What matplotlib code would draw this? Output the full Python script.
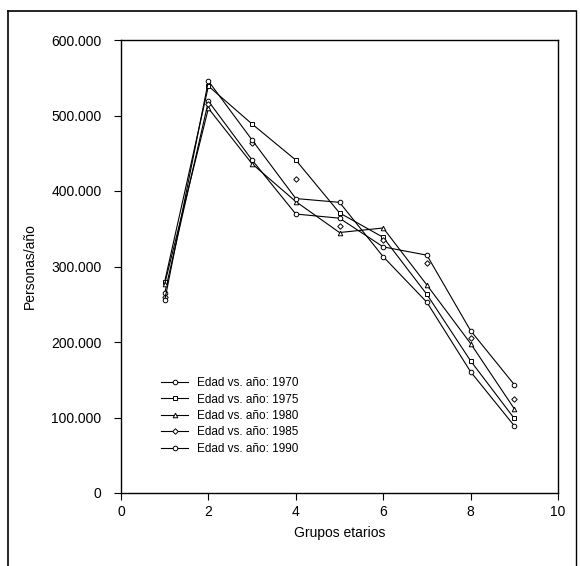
import matplotlib
matplotlib.use("Agg")
import matplotlib.pyplot as plt
from matplotlib.ticker import FuncFormatter
from matplotlib.lines import Line2D

plt.rcParams['font.family'] = ['Liberation Sans', 'DejaVu Sans']

# grupos etarios (eje x)
grupos = [1, 2, 3, 4, 5, 6, 7, 8, 9]

# personas/año por serie
y1970 = [264500, 519000, 441000, 369500, 364000, 326000, 315000, 215000, 143500]
y1975 = [280000, 539000, 488700, 441000, 371000, 338600, 263000, 175000, 98700]
y1980 = [277000, 509500, 436000, 386000, 345000, 351000, 275500, 198000, 111500]
y1985 = [260000, 515000, 464000, 416000, 354000, 335000, 304000, 205000, 125000]
y1990 = [255000, 545700, 467500, 390000, 385000, 313000, 252600, 160600, 89000]

etiquetas = ['Edad vs. año: 1970', 'Edad vs. año: 1975', 'Edad vs. año: 1980',
             'Edad vs. año: 1985', 'Edad vs. año: 1990']
marcadores = ['o', 's', '^', 'D', 'o']

xticks = [0, 2, 4, 6, 8, 10]
yticks = [0, 100000, 200000, 300000, 400000, 500000, 600000]

fig = plt.figure(figsize=(5.8, 5.66), dpi=100)
ax = fig.add_axes([121 / 580, 1 - 493 / 566, 437 / 580, 453 / 566])

series = [y1970, y1975, y1980, y1985, y1990]
handles = []
for datos, mk, lab in zip(series, marcadores, etiquetas):
    ms = 2.8 if mk == 'D' else 3.3
    # la serie 1985 aparece solo con marcadores en el grafico
    ls = 'none' if mk == 'D' else '-'
    ax.plot(grupos, datos, linestyle=ls, color='black', lw=0.8,
            marker=mk, ms=ms, mfc='white', mec='black', mew=0.7)
    handles.append(Line2D([], [], color='black', lw=0.8, marker=mk, ms=ms,
                          mfc='white', mec='black', mew=0.7, label=lab))

ax.set_xlim(0, 10)
ax.set_ylim(0, 600000)
ax.set_xticks(xticks)
ax.set_yticks(yticks)
ax.yaxis.set_major_formatter(FuncFormatter(lambda v, p: f"{int(v):,}".replace(",", ".")))
ax.tick_params(direction='out', length=5, width=0.8, labelsize=10)
ax.tick_params(axis='y', pad=9)
ax.tick_params(axis='x', pad=4)
for s in ax.spines.values():
    s.set_linewidth(1.0)

ax.set_xlabel('Grupos etarios', fontsize=10, labelpad=5)
ax.set_ylabel('Personas/año', fontsize=10, labelpad=10)

ax.legend(handles=handles, loc='upper left', bbox_to_anchor=(0.092, 0.256),
          frameon=False, fontsize=8.5, handlelength=2.3, handletextpad=0.7,
          labelspacing=0.38, borderpad=0, borderaxespad=0)

# marco exterior de la figura
fig.add_artist(Line2D([8 / 580, 8 / 580], [0, 1 - 11 / 566], color='black', lw=1.2))
fig.add_artist(Line2D([8 / 580, 576 / 580], [1 - 11 / 566, 1 - 11 / 566], color='black', lw=1.2))
fig.add_artist(Line2D([576 / 580, 576 / 580], [0, 1 - 11 / 566], color='black', lw=1.0))

fig.savefig('out.png', dpi=100)
